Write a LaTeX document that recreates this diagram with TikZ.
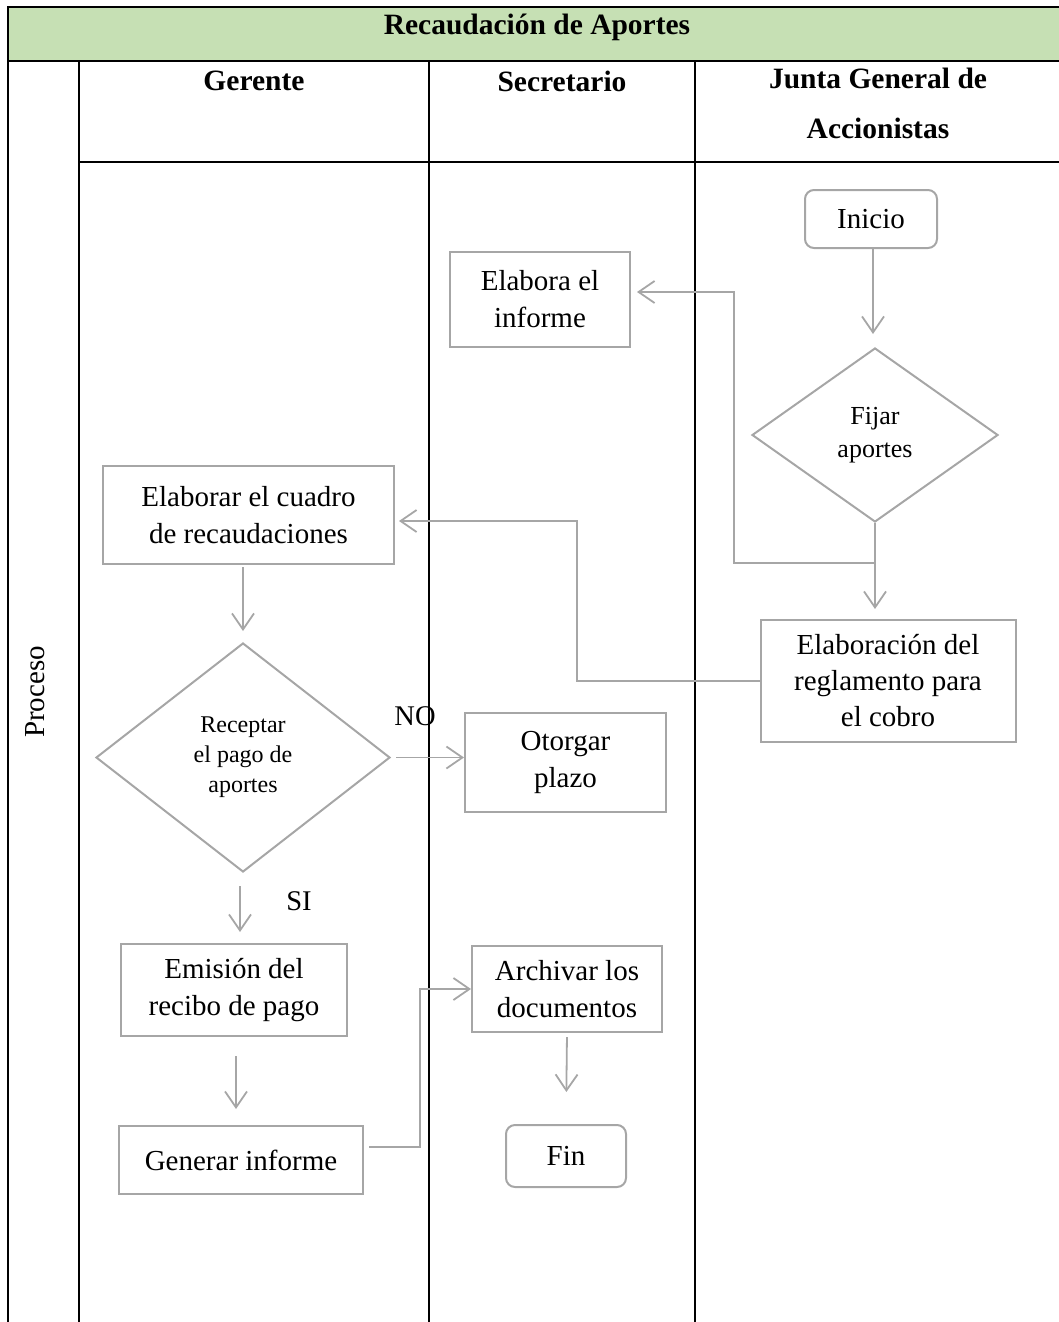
\documentclass[tikz,border=0pt]{standalone}
\usepackage{fontspec}
\setmainfont{Liberation Serif}
\usetikzlibrary{arrows.meta,shapes.geometric}
\definecolor{hdrgreen}{RGB}{198,224,180}
\definecolor{flowgray}{RGB}{166,166,166}
\begin{document}
\begin{tikzpicture}[x=1pt,y=-1pt,
  tbl/.style={draw=black,line width=2.2pt},
  box/.style={draw=flowgray,line width=2pt,rectangle,inner sep=0pt,align=center,font=\fontsize{29}{37}\selectfont},
  term/.style={box,rounded corners=9pt},
  dec/.style={draw=flowgray,line width=2pt,diamond,inner sep=0pt,align=center},
  conn/.style={draw=flowgray,line width=1.8pt},
  arr/.style={conn,-{Straight Barb[length=16pt,width=22pt,line width=1.8pt]}},
  hdr/.style={font=\bfseries\fontsize{29.5}{50}\selectfont,align=center,inner sep=0pt},
  lbl/.style={font=\fontsize{28.5}{30}\selectfont,inner sep=0pt}]
\useasboundingbox (0,0) rectangle (1059,1322);
% table
\fill[hdrgreen] (8,7) rectangle (1059,61);
\draw[tbl] (1059,7) -- (8,7) -- (8,1322);
\draw[tbl] (8,61) -- (1059,61);
\draw[tbl] (79,162) -- (1059,162);
\draw[tbl] (79,61) -- (79,1322);
\draw[tbl] (429,61) -- (429,1322);
\draw[tbl] (695,61) -- (695,1322);
\node[hdr] (title) at (537,27) {Recaudación de Aportes};
\node[hdr] (lger) at (254,81) {Gerente};
\node[hdr] (lsec) at (562,81) {Secretario};
\node[hdr,anchor=north] (ljun) at (878,68) {Junta General de\\Accionistas};
\node[font=\fontsize{29}{30}\selectfont,rotate=90,inner sep=0pt] (lproc) at (35,692) {Proceso};
% nodes
\node[term,minimum width=132pt,minimum height=58pt] (inicio) at (871,219) {Inicio};
\node[box,minimum width=180pt,minimum height=95pt] (informe) at (540,299.5) {Elabora el\\informe};
\node[dec,minimum width=246pt,minimum height=174pt,font=\fontsize{26}{33}\selectfont] (fijar) at (875,435) {Fijar\\aportes};
\node[box,minimum width=255pt,minimum height=122pt,font=\fontsize{29}{36}\selectfont] (regl) at (888,681) {Elaboración del\\reglamento para\\el cobro};
\node[box,minimum width=291pt,minimum height=98pt] (cuadro) at (248.5,515) {Elaborar el cuadro\\de recaudaciones};
\node[dec,minimum width=294pt,minimum height=229pt,font=\fontsize{24}{30}\selectfont] (recep) at (243,757.5) {Receptar\\el pago de\\aportes};
\node[box,minimum width=201pt,minimum height=99pt] (otor) at (565.5,762.5) {Otorgar\\plazo};
\node[box,minimum width=226pt,minimum height=92pt] (emis) at (234,990) {Emisión del\\recibo de pago};
\node[box,minimum width=244pt,minimum height=68pt] (gen) at (241,1160) {Generar informe};
\node[box,minimum width=190pt,minimum height=86pt] (arch) at (567,989) {Archivar los\\documentos};
\node[term,minimum width=120pt,minimum height=62pt] (fin) at (566,1156) {Fin};
\node[lbl] (nolbl) at (415,716) {NO};
\node[lbl] (silbl) at (299,901) {SI};
% connectors
\coordinate (j1) at (875,563);
\draw[arr,shorten >=13pt] ([xshift=2pt]inicio.south) -- ([xshift=-2pt]fijar.north);
\draw[arr,shorten >=10pt] (fijar.south) -- (fijar.south |- regl.north);
\draw[arr,shorten >=6pt] (j1) -- (734,563) |- ([yshift=7.5pt]informe.east);
\draw[arr,shorten >=4pt] (regl.west) -- (577,681) |- ([yshift=-6pt]cuadro.east);
\draw[arr,shorten <=2pt,shorten >=11pt] (cuadro.south -| 243,0) -- (recep.north);
\draw[arr,shorten <=5pt] (recep.east) -- (recep.east -| otor.west);
\draw[arr,shorten <=13pt,shorten >=11pt] ([xshift=-3pt]recep.south) -- ([xshift=-3pt]recep.south |- emis.north);
\draw[arr,shorten <=19pt,shorten >=16pt] ([xshift=2pt]emis.south) -- ([xshift=2pt]emis.south |- gen.north);
\draw[arr] ([xshift=5pt,yshift=13pt]gen.east) -- (420,1147) |- (arch.west);
\draw[arr,shorten <=4pt,shorten >=32pt] (arch.south) -- (fin.north);
\end{tikzpicture}
\end{document}
